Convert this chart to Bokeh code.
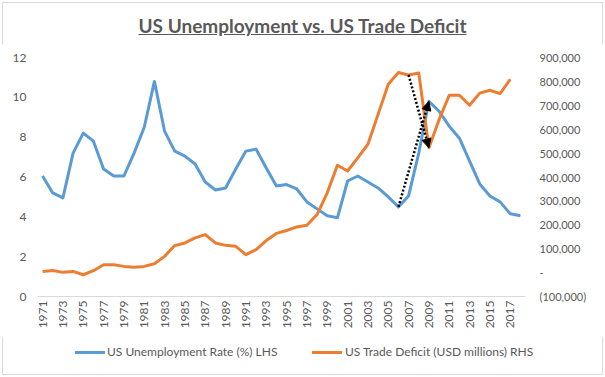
import numpy as np
from bokeh.plotting import figure
from bokeh.models import (Range1d, LinearAxis, FixedTicker, CustomJSTickFormatter,
                          Arrow, NormalHead, ColumnDataSource, Div)
from bokeh.layouts import column
from bokeh.embed import file_html
from bokeh.resources import INLINE

# ---------------- data ----------------
title_text = "US Unemployment vs. US Trade Deficit"
unemp_label = "US Unemployment Rate (%) LHS"
deficit_label = "US Trade Deficit (USD millions) RHS"

years = list(range(1971, 2019))

unemployment = [6.05, 5.2, 4.95, 7.2, 8.2, 7.8, 6.4, 6.05, 6.05, 7.2,
                8.5, 10.8, 8.3, 7.3, 7.05, 6.65, 5.75, 5.35, 5.45, 6.4,
                7.3, 7.4, 6.45, 5.55, 5.62, 5.4, 4.75, 4.4, 4.05, 3.95,
                5.8, 6.05, 5.75, 5.45, 5.0, 4.5, 5.05, 7.2, 9.8, 9.3,
                8.55, 7.95, 6.8, 5.65, 5.05, 4.75, 4.15, 4.05]

trade_deficit = [5000, 9000, 1000, 5000, -9000, 8000, 33000, 33000, 26000, 22000,
                 26000, 37000, 68000, 113000, 124000, 145000, 159000, 124000, 114000, 110000,
                 75000, 96000, 134000, 164000, 176000, 191000, 198000, 243000, 334000, 449000,
                 425000, 480000, 537000, 662000, 788000, 837000, 827000, 835000, 522000, 640000,
                 742000, 742000, 700000, 751000, 763000, 749000, 809000, None]

left_ticks = [0, 2, 4, 6, 8, 10, 12]
right_ticks = [-100000, 0, 100000, 200000, 300000, 400000, 500000, 600000, 700000, 800000, 900000]
x_tick_years = years[::2]

# arrows connect these years on each series
arrow_unemp_from, arrow_unemp_to = 2006, 2009
arrow_def_from, arrow_def_to = 2007, 2009

# ---------------- styling ----------------
BLUE = "#5B9BD5"
ORANGE = "#ED7D31"
TXT = "#595959"
FONT = "Lato"

src = ColumnDataSource(dict(
    year=years,
    unemp=unemployment,
    deficit=np.array([np.nan if v is None else v for v in trade_deficit], dtype=float),
))

TITLE_H = 44
LEGEND_H = 40

p = figure(width=605, height=377 - TITLE_H - LEGEND_H, output_backend="svg", toolbar_location=None,
           x_range=Range1d(1970.5, 2018.5), y_range=Range1d(0, 12),
           min_border_left=37, min_border_right=80, min_border_top=13, min_border_bottom=41)
p.extra_y_ranges = {"rhs": Range1d(-100000, 900000)}

r1 = p.line("year", "unemp", source=src, line_color=BLUE, line_width=3, line_join="round")
r2 = p.line("year", "deficit", source=src, y_range_name="rhs", line_color=ORANGE,
            line_width=3, line_join="round")

p.outline_line_color = None
p.xgrid.visible = False
p.ygrid.visible = False
p.background_fill_color = "white"
p.border_fill_color = "white"

# x axis
xa = p.xaxis[0]
xa.ticker = FixedTicker(ticks=x_tick_years)
xa.major_label_orientation = np.pi / 2
xa.axis_line_color = "#D9D9D9"
xa.axis_line_width = 1
xa.major_tick_line_color = None
xa.minor_tick_line_color = None
xa.major_tick_out = 0
xa.major_tick_in = 0
xa.major_label_standoff = 4
xa.major_label_text_font = FONT
xa.major_label_text_font_size = "12px"
xa.major_label_text_color = TXT

# left axis
ya = p.yaxis[0]
ya.ticker = FixedTicker(ticks=left_ticks)
ya.axis_line_color = None
ya.major_tick_line_color = None
ya.minor_tick_line_color = None
ya.major_tick_out = 0
ya.major_tick_in = 0
ya.major_label_standoff = 11
ya.major_label_text_font = FONT
ya.major_label_text_font_size = "12px"
ya.major_label_text_color = TXT

# right axis
ra = LinearAxis(y_range_name="rhs", ticker=FixedTicker(ticks=right_ticks))
ra.formatter = CustomJSTickFormatter(code="""
    if (tick == 0) { return "-"; }
    var s = Math.abs(tick).toLocaleString('en-US');
    return tick < 0 ? "(" + s + ")" : s;
""")
ra.axis_line_color = None
ra.major_tick_line_color = None
ra.minor_tick_line_color = None
ra.major_tick_out = 0
ra.major_tick_in = 0
ra.major_label_standoff = 14
ra.major_label_text_font = FONT
ra.major_label_text_font_size = "11px"
ra.major_label_text_color = TXT
p.add_layout(ra, "right")

# arrows (dotted, black)
i0, i1 = years.index(arrow_unemp_from), years.index(arrow_unemp_to)
p.add_layout(Arrow(end=NormalHead(size=9, fill_color="black", line_color="black", line_width=1),
                   x_start=years[i0], y_start=unemployment[i0],
                   x_end=years[i1], y_end=unemployment[i1],
                   line_color="black", line_width=2.5, line_dash="2 2"))
j0, j1 = years.index(arrow_def_from), years.index(arrow_def_to)
p.add_layout(Arrow(end=NormalHead(size=9, fill_color="black", line_color="black", line_width=1),
                   x_start=years[j0], y_start=trade_deficit[j0],
                   x_end=years[j1], y_end=trade_deficit[j1],
                   y_range_name="rhs",
                   line_color="black", line_width=2.5, line_dash="2 2"))

# title (underlined, as in the reference)
title_div = Div(text=(f'<div style="width:605px;text-align:center;font-family:Lato;font-weight:bold;'
                      f'font-size:19px;line-height:normal;color:{TXT};padding-top:14px;'
                      f'text-decoration:underline;">{title_text}</div>'),
                width=605, height=TITLE_H, margin=0)

# legend strip below the chart
def legend_entry(color, label, x_line, x_text):
    return (f'<div style="position:absolute;left:{x_line}px;top:14px;width:30px;height:3px;'
            f'background:{color};"></div>'
            f'<div style="position:absolute;left:{x_text}px;top:7px;white-space:nowrap;">{label}</div>')

legend_div = Div(text=(f'<div style="position:relative;width:605px;height:{LEGEND_H}px;'
                       f'font-family:Lato;font-size:12px;line-height:normal;color:{TXT};">'
                       + legend_entry(BLUE, unemp_label, 75, 107)
                       + legend_entry(ORANGE, deficit_label, 312, 345)
                       + '</div>'),
                 width=605, height=LEGEND_H, margin=0)

layout = column(title_div, p, legend_div, spacing=0,
                styles={"outline": "1px solid #D9D9D9", "outline-offset": "-3px"})

open("out.html", "w").write(file_html(layout, INLINE))
